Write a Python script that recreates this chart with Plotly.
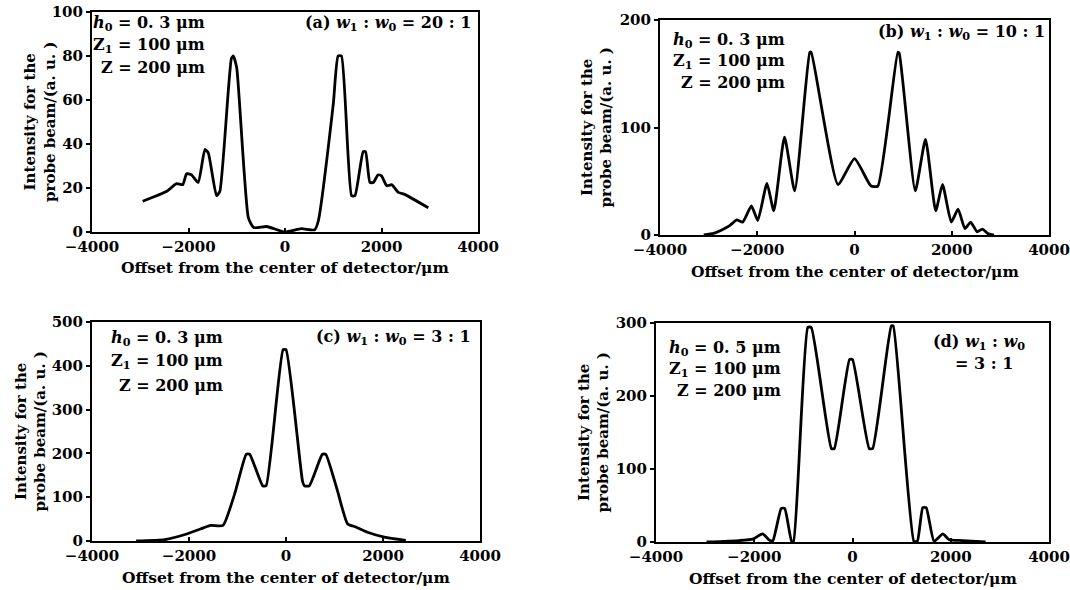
import plotly.graph_objects as go

W, H = 1070, 590

# ---------------- data ----------------
xa = [-2950, -2450, -2250, -2120, -2040, -1940, -1800, -1660, -1590, -1420, -1350,
      -1110, -1070, -1000, -760, -650, -380, 0, 340, 615, 690, 1000, 1100, 1170,
      1380, 1450, 1620, 1670, 1760, 1830, 1930, 2000, 2110, 2210, 2350, 2490, 2970]
ya = [14, 18.5, 22, 21.5, 26.5, 26, 22.5, 37.5, 36, 16.5, 18.5,
      79, 80, 74.5, 6.5, 2, 2.5, 0, 1.5, 1, 5, 58, 80, 80,
      16.5, 16.5, 36.5, 36.5, 22.5, 22.5, 26, 25.5, 21, 21.5, 18, 17, 11]

xb = [-3100, -2900, -2740, -2560, -2420, -2300, -2120, -1990, -1800, -1660, -1440,
      -1230, -920, -890, -340, 0, 340, 480, 890, 920, 1250, 1460, 1670, 1810,
      1990, 2130, 2270, 2390, 2520, 2630, 2740, 2870]
yb = [0, 1.5, 4.5, 9, 14, 12, 27, 13.5, 48, 22.5, 91,
      41, 170, 170, 47, 71, 45.5, 45.5, 170, 169, 41, 89, 22.5, 47,
      12, 24, 6, 12, 3, 5.5, 1.5, 0]

xc = [-3090, -2500, -2030, -1750, -1550, -1300, -1060, -820, -750, -480, -410,
      -60, 0, 340, 380, 480, 750, 820, 1060, 1270, 1440, 1680, 2030, 2470]
yc = [0, 3, 16.5, 28, 35.5, 35.5, 107, 198, 198, 126, 126,
      437, 437, 137, 126, 126, 198, 198, 115, 39, 32, 20, 9, 1.5]

xd = [-2970, -2300, -2030, -1830, -1680, -1620, -1450, -1380, -1240, -1200, -910,
      -840, -430, -370, -60, 0, 340, 410, 790, 830, 1250, 1320, 1430, 1500,
      1660, 1840, 1970, 2240, 2710]
yd = [0, 2, 4, 11, 2, 2, 46, 46, 1, 1, 294,
      294, 128, 128, 250, 250, 128, 128, 296, 296, 1, 1, 47, 47,
      1, 11, 3, 2, 0]

x_ticks = [-4000, -2000, 0, 2000, 4000]
y_ticks_a = [0, 20, 40, 60, 80, 100]
y_ticks_b = [0, 100, 200]
y_ticks_c = [0, 100, 200, 300, 400, 500]
y_ticks_d = [0, 100, 200, 300]

x_title = "Offset from the center of detector/μm"
y_title = "Intensity for the<br>probe beam/(a. u. )"
params = [
    ["<i>h</i><sub>0</sub> = 0. 3 μm", "Z<sub>1</sub> = 100 μm", "Z = 200 μm"],
    ["<i>h</i><sub>0</sub> = 0. 3 μm", "Z<sub>1</sub> = 100 μm", "Z = 200 μm"],
    ["<i>h</i><sub>0</sub> = 0. 3 μm", "Z<sub>1</sub> = 100 μm", "Z = 200 μm"],
    ["<i>h</i><sub>0</sub> = 0. 5 μm", "Z<sub>1</sub> = 100 μm", "Z = 200 μm"],
]
NB = "\u00a0"
labels = [
    [f"(a) <i>w</i><sub>1</sub>{NB}:{NB}<i>w</i><sub>0</sub>{NB}={NB}20{NB}:{NB}1"],
    [f"(b) <i>w</i><sub>1</sub>{NB}:{NB}<i>w</i><sub>0</sub>{NB}={NB}10{NB}:{NB}1"],
    [f"(c) <i>w</i><sub>1</sub>{NB}:{NB}<i>w</i><sub>0</sub>{NB}={NB}3{NB}:{NB}1"],
    [f"(d) <i>w</i><sub>1</sub>{NB}:{NB}<i>w</i><sub>0</sub>", f"={NB}3{NB}:{NB}1"],
]

# ---------------- layout helpers ----------------
def px(x):
    return x / W

def py(y):
    return 1 - y / H

FONT = "DejaVu Serif"
boxes = [  # left, right, top, bottom in pixels
    (92, 478, 12, 232),
    (660, 1049, 20, 235),
    (92, 480, 322, 541),
    (656, 1049, 323, 542),
]
series = [(xa, ya), (xb, yb), (xc, yc), (xd, yd)]
yranges = [[0, 100], [0, 200], [0, 500], [0, 300]]
yticks = [y_ticks_a, y_ticks_b, y_ticks_c, y_ticks_d]
ytitle_x = [40, 597, 30, 593]
param_pos = [  # right edge x, y of first line, line gap
    (207, 23, 22.5),
    (787, 40, 21),
    (225, 338, 23.5),
    (783, 348, 21),
]
label_pos = [(473, 23), (1047, 32), (473, 337), (1027, 342)]

fig = go.Figure()
annotations = []
for i, ((l, r, t, b), (xs, ys)) in enumerate(zip(boxes, series)):
    n = "" if i == 0 else str(i + 1)
    fig.add_trace(go.Scatter(x=xs, y=ys, mode="lines",
                             line=dict(color="black", width=2.8, shape="spline",
                                       smoothing=0.5),
                             xaxis="x" + n, yaxis="y" + n, showlegend=False))
    common = dict(showline=True, linecolor="black", linewidth=2, mirror=True,
                  showgrid=False, zeroline=False, ticklen=4, tickwidth=1.5,
                  tickcolor="black", automargin=False, ticklabeloverflow="allow",
                  tickfont=dict(family=FONT, size=15, color="black", weight="bold"))
    fig.layout["xaxis" + n] = dict(domain=[px(l), px(r)], range=[-4000, 4000],
                                   tickvals=x_ticks, ticks="inside",
                                   anchor="y" + n, **common)
    fig.layout["yaxis" + n] = dict(domain=[py(b), py(t)], range=yranges[i],
                                   tickvals=yticks[i], ticks="outside",
                                   anchor="x" + n, **common)
    # axis titles
    annotations.append(dict(text=x_title, x=px((l + r) / 2), y=py(b + 36),
                            xref="paper", yref="paper", showarrow=False,
                            xanchor="center", yanchor="middle",
                            font=dict(family=FONT, size=15.5, color="black",
                                      weight="bold")))
    annotations.append(dict(text=y_title, x=px(ytitle_x[i]), y=py((t + b) / 2),
                            xref="paper", yref="paper", showarrow=False,
                            textangle=-90, xanchor="center", yanchor="middle",
                            font=dict(family=FONT, size=15, color="black",
                                      weight="bold")))
    rx, ry, gap = param_pos[i]
    for k, txt in enumerate(params[i]):
        annotations.append(dict(text=txt, x=px(rx), y=py(ry + k * gap),
                                xref="paper", yref="paper", showarrow=False,
                                xanchor="right", yanchor="middle",
                                font=dict(family=FONT, size=16, color="black",
                                          weight="bold")))
    lx, ly = label_pos[i]
    for k, txt in enumerate(labels[i]):
        annotations.append(dict(text=txt, x=px(lx - 12 * k), y=py(ly + k * 21),
                                xref="paper", yref="paper", showarrow=False,
                                xanchor="right", yanchor="middle",
                                font=dict(family=FONT, size=16, color="black",
                                          weight="bold")))

fig.update_layout(width=W, height=H, margin=dict(l=0, r=0, t=0, b=0),
                  paper_bgcolor="white", plot_bgcolor="white",
                  annotations=annotations)
# remove the default page margin so the figure fills the window exactly
fig.write_html("out.html", config={"displayModeBar": False},
               post_script="document.body.style.margin='0';"
                           "document.body.style.overflow='hidden';")
